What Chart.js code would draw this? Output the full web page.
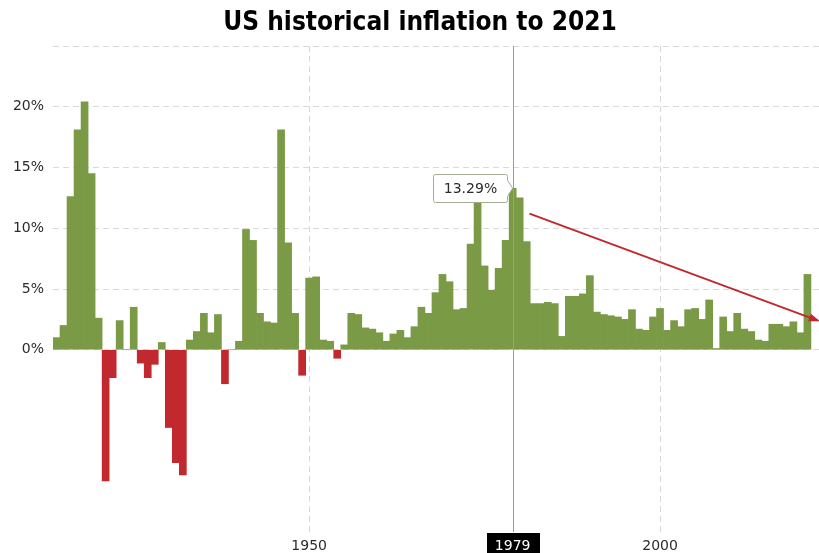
<!DOCTYPE html>
<html>
<head>
<meta charset="utf-8">
<title>US historical inflation to 2021</title>
<script src="https://cdn.jsdelivr.net/npm/chart.js@4.4.1/dist/chart.umd.min.js"></script>
<style>
  html, body { margin: 0; padding: 0; background: #fff; }
  #wrap { width: 819px; height: 553px; }
</style>
</head>
<body>
<div id="wrap"><canvas id="chart" width="819" height="553"></canvas></div>
<script>
const chartTitle = 'US historical inflation to 2021';

// yearly inflation, % (Dec to Dec)
const years = [
    1914, 1915, 1916, 1917, 1918, 1919, 1920, 1921, 1922, 1923,
    1924, 1925, 1926, 1927, 1928, 1929, 1930, 1931, 1932, 1933,
    1934, 1935, 1936, 1937, 1938, 1939, 1940, 1941, 1942, 1943,
    1944, 1945, 1946, 1947, 1948, 1949, 1950, 1951, 1952, 1953,
    1954, 1955, 1956, 1957, 1958, 1959, 1960, 1961, 1962, 1963,
    1964, 1965, 1966, 1967, 1968, 1969, 1970, 1971, 1972, 1973,
    1974, 1975, 1976, 1977, 1978, 1979, 1980, 1981, 1982, 1983,
    1984, 1985, 1986, 1987, 1988, 1989, 1990, 1991, 1992, 1993,
    1994, 1995, 1996, 1997, 1998, 1999, 2000, 2001, 2002, 2003,
    2004, 2005, 2006, 2007, 2008, 2009, 2010, 2011, 2012, 2013,
    2014, 2015, 2016, 2017, 2018, 2019, 2020, 2021
];
const inflation = [
    1.0, 2.0, 12.6, 18.1, 20.4, 14.5, 2.6, -10.8, -2.3, 2.4,
    0.0, 3.5, -1.1, -2.3, -1.2, 0.6, -6.4, -9.3, -10.3, 0.8,
    1.5, 3.0, 1.4, 2.9, -2.8, 0.0, 0.7, 9.9, 9.0, 3.0,
    2.3, 2.2, 18.1, 8.8, 3.0, -2.1, 5.9, 6.0, 0.8, 0.7,
    -0.7, 0.4, 3.0, 2.9, 1.8, 1.7, 1.4, 0.7, 1.3, 1.6,
    1.0, 1.9, 3.5, 3.0, 4.7, 6.2, 5.6, 3.3, 3.4, 8.7,
    12.3, 6.9, 4.9, 6.7, 9.0, 13.29, 12.5, 8.9, 3.8, 3.8,
    3.9, 3.8, 1.1, 4.4, 4.4, 4.6, 6.1, 3.1, 2.9, 2.8,
    2.7, 2.5, 3.3, 1.7, 1.6, 2.7, 3.4, 1.6, 2.4, 1.9,
    3.3, 3.4, 2.5, 4.1, 0.1, 2.7, 1.5, 3.0, 1.7, 1.5,
    0.8, 0.7, 2.1, 2.1, 1.9, 2.3, 1.4, 6.2
];

const xTicks = [1950, 1979, 2000];
const yTicks = [0, 5, 10, 15, 20];
const highlightYear = 1979;

// downward trend arrow after the 1979 peak (year, %)
const trendFrom = { x: 1981.4, y: 11.2 };
const trendTo = { x: 2022.5, y: 2.4 };

const green = '#7a9a46';
const red = '#c1292e';
const gridColor = '#d9d9d9';
const textColor = '#2b2b2b';
const tickFont = { family: 'DejaVu Sans, Verdana, sans-serif', size: 14 };

const peakValue = inflation[years.indexOf(highlightYear)];

// title, 1979 marker, arrow head and value callout
const decorations = {
    id: 'decorations',
    beforeDraw(chart) {
        const { ctx, chartArea, scales } = chart;
        const px = scales.x.getPixelForValue(highlightYear);
        ctx.save();
        ctx.fillStyle = '#000';
        ctx.fillRect(Math.round(px) - 26, chartArea.bottom + 1, 53, chart.height - chartArea.bottom);
        ctx.restore();
    },
    afterDatasetsDraw(chart) {
        const { ctx, chartArea, scales } = chart;
        const px = scales.x.getPixelForValue(highlightYear);

        ctx.save();
        // vertical marker line
        ctx.strokeStyle = '#9c9c9c';
        ctx.lineWidth = 1;
        ctx.beginPath();
        ctx.moveTo(Math.round(px) + 0.5, chartArea.top);
        ctx.lineTo(Math.round(px) + 0.5, chartArea.bottom);
        ctx.stroke();

        // arrow head at the end of the trend line
        const pts = chart.getDatasetMeta(1).data;
        const a = pts[0], b = pts[1];
        const ang = Math.atan2(b.y - a.y, b.x - a.x);
        ctx.fillStyle = red;
        ctx.beginPath();
        ctx.moveTo(b.x + 2, b.y + 2 * Math.tan(ang));
        ctx.lineTo(b.x - 9 * Math.cos(ang) + 4 * Math.sin(ang), b.y - 9 * Math.sin(ang) - 4 * Math.cos(ang));
        ctx.lineTo(b.x - 9 * Math.cos(ang) - 4 * Math.sin(ang), b.y - 9 * Math.sin(ang) + 4 * Math.cos(ang));
        ctx.closePath();
        ctx.fill();

        // callout with the peak value
        const tipX = px;
        const tipY = scales.y.getPixelForValue(peakValue);
        const w = 74, h = 28;
        const right = Math.round(tipX - 6) + 0.5;
        const left = right - w;
        const top = Math.round(tipY - h / 2) + 0.5;
        const bottom = top + h;
        ctx.beginPath();
        ctx.moveTo(left + 2, top);
        ctx.lineTo(right - 2, top);
        ctx.quadraticCurveTo(right, top, right, top + 2);
        ctx.lineTo(right, tipY - 8);
        ctx.lineTo(tipX, tipY);
        ctx.lineTo(right, tipY + 8);
        ctx.lineTo(right, bottom - 2);
        ctx.quadraticCurveTo(right, bottom, right - 2, bottom);
        ctx.lineTo(left + 2, bottom);
        ctx.quadraticCurveTo(left, bottom, left, bottom - 2);
        ctx.lineTo(left, top + 2);
        ctx.quadraticCurveTo(left, top, left + 2, top);
        ctx.closePath();
        ctx.fillStyle = '#fff';
        ctx.fill();
        ctx.strokeStyle = '#a3ad93';
        ctx.lineWidth = 1;
        ctx.stroke();

        ctx.fillStyle = textColor;
        ctx.font = '14px DejaVu Sans, Verdana, sans-serif';
        ctx.textAlign = 'center';
        ctx.textBaseline = 'middle';
        ctx.fillText(peakValue.toFixed(2) + '%', (left + right) / 2, (top + bottom) / 2 + 1);
        ctx.restore();
    },
    afterDraw(chart) {
        const { ctx } = chart;
        ctx.save();
        ctx.fillStyle = '#000';
        ctx.font = 'bold 26px "DejaVu Sans Condensed", "DejaVu Sans", sans-serif';
        ctx.textAlign = 'center';
        ctx.textBaseline = 'alphabetic';
        ctx.fillText(chartTitle, 420, 30);
        ctx.restore();
    }
};

const ctx = document.getElementById('chart').getContext('2d');
const chart = new Chart(ctx, {
    type: 'bar',
    data: {
        datasets: [{
            type: 'bar',
            label: 'Inflation',
            data: years.map((yr, i) => ({ x: yr, y: inflation[i] })),
            backgroundColor: inflation.map(v => v < 0 ? red : green),
            borderWidth: 0,
            barPercentage: 1,
            categoryPercentage: 1,
            order: 1
        }, {
            type: 'line',
            label: 'Trend',
            data: [trendFrom, trendTo],
            borderColor: red,
            borderWidth: 2,
            pointRadius: 0,
            fill: false,
            order: 0
        }]
    },
    options: {
        responsive: false,
        animation: false,
        devicePixelRatio: 1,
        layout: { padding: { top: 46, left: 0, right: 0, bottom: 0 } },
        plugins: {
            legend: { display: false },
            tooltip: { enabled: false },
            title: { display: false }
        },
        scales: {
            x: {
                type: 'linear',
                min: 1913.5,
                max: 2022.65,
                offset: false,
                afterBuildTicks: s => { s.ticks = xTicks.map(v => ({ value: v })); },
                afterFit: s => { s.height = 21; },
                ticks: {
                    autoSkip: false,
                    maxRotation: 0,
                    padding: 6,
                    font: tickFont,
                    color: c => c.tick && c.tick.value === highlightYear ? '#fff' : textColor,
                    callback: v => String(v)
                },
                grid: {
                    offset: false,
                    drawTicks: false,
                    color: c => c.tick && c.tick.value === highlightYear ? 'rgba(0,0,0,0)' : gridColor
                },
                border: { display: false, dash: [6, 4] }
            },
            y: {
                min: -15,
                max: 25,
                afterFit: s => { s.width = 53; },
                ticks: {
                    stepSize: 5,
                    padding: 9,
                    font: tickFont,
                    color: textColor,
                    callback: v => yTicks.includes(v) ? v + '%' : ''
                },
                grid: {
                    drawTicks: false,
                    color: c => c.tick && c.tick.value >= 0 ? gridColor : 'rgba(0,0,0,0)'
                },
                border: { display: false, dash: [6, 4] }
            }
        }
    },
    plugins: [decorations]
});
</script>
</body>
</html>
